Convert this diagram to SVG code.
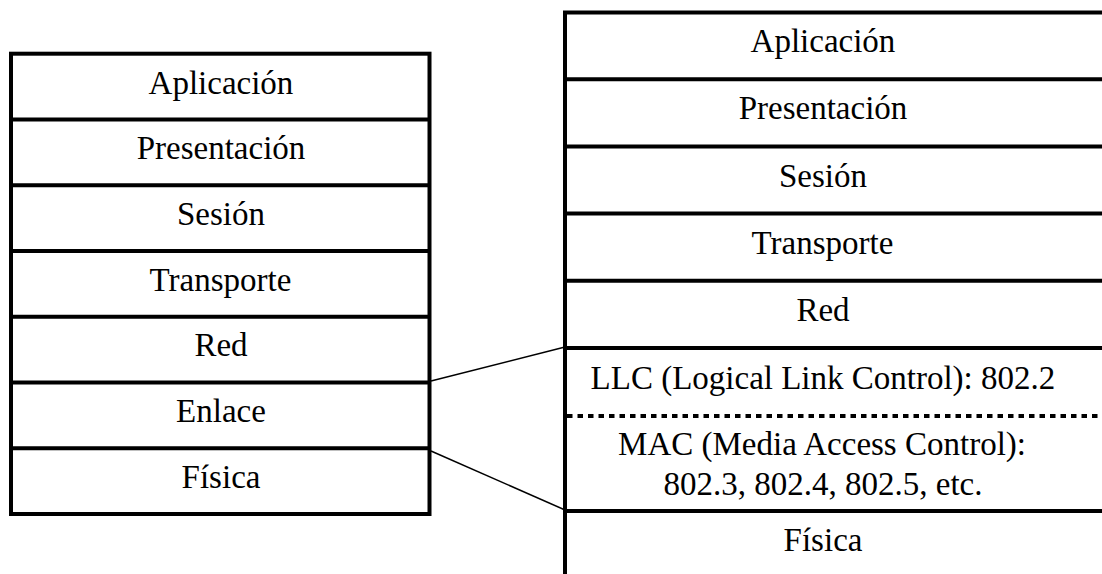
<svg xmlns="http://www.w3.org/2000/svg" width="1102" height="574" viewBox="0 0 1102 574">
<rect width="1102" height="574" fill="#fff"/>
<g id="left-stack">
<rect x="11" y="53.7" width="418.5" height="460.3" fill="none" stroke="#000" stroke-width="4"/>
<path d="M11 119.5H429.5M11 185.2H429.5M11 251H429.5M11 316.7H429.5M11 382.5H429.5M11 448.3H429.5" fill="none" stroke="#000" stroke-width="4"/>
<text x="148.6" y="93.5" font-family="Liberation Serif" font-size="33">Aplicación</text>
<text x="136.7" y="159" font-family="Liberation Serif" font-size="33">Presentación</text>
<text x="177" y="225" font-family="Liberation Serif" font-size="33">Sesión</text>
<text x="149.5" y="290.5" font-family="Liberation Serif" font-size="33">Transporte</text>
<text x="194.4" y="356" font-family="Liberation Serif" font-size="33">Red</text>
<text x="176.1" y="422" font-family="Liberation Serif" font-size="33">Enlace</text>
<text x="181.6" y="487.5" font-family="Liberation Serif" font-size="33">Física</text>
</g>
<g id="right-stack">
<path d="M565 574V12.5H1102M565 79.2H1102M565 146.4H1102M565 213.6H1102M565 280.8H1102M565 348H1102M565 511H1102" fill="none" stroke="#000" stroke-width="4"/>
<path d="M567 416H1102" stroke="#000" stroke-width="4" stroke-dasharray="5.5 5" fill="none"/>
<text x="750.6" y="52" font-family="Liberation Serif" font-size="33">Aplicación</text>
<text x="738.7" y="119" font-family="Liberation Serif" font-size="33">Presentación</text>
<text x="779" y="186.5" font-family="Liberation Serif" font-size="33">Sesión</text>
<text x="751.5" y="253.5" font-family="Liberation Serif" font-size="33">Transporte</text>
<text x="796.4" y="321" font-family="Liberation Serif" font-size="33">Red</text>
<text x="590.6" y="388.5" font-family="Liberation Serif" font-size="33">LLC (Logical Link Control): 802.2</text>
<text x="618.1" y="455" font-family="Liberation Serif" font-size="33">MAC (Media Access Control):</text>
<text x="663.5" y="495" font-family="Liberation Serif" font-size="33">802.3, 802.4, 802.5, etc.</text>
<text x="783.6" y="551" font-family="Liberation Serif" font-size="33">Física</text>
</g>
<g id="connectors">
<line x1="431" y1="381" x2="565" y2="347" stroke="#000" stroke-width="1.5"/>
<line x1="431" y1="451" x2="565" y2="510" stroke="#000" stroke-width="1.5"/>
</g>
</svg>
